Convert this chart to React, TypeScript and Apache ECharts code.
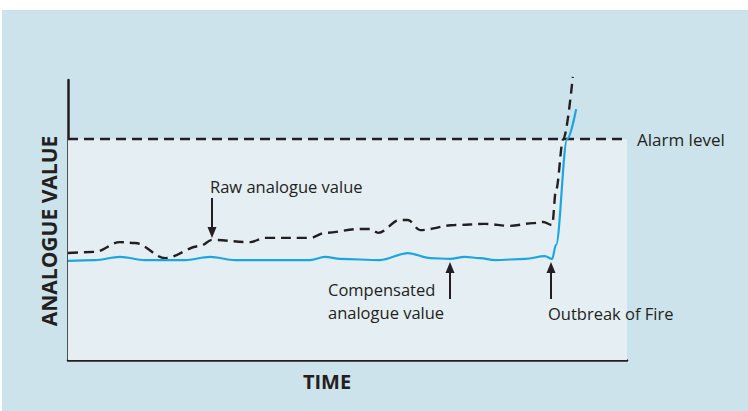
import React, { useEffect, useRef } from "react";
import * as echarts from "echarts";

// time (0–100 arbitrary units) and analogue value (0–100 arbitrary units)
const rawTime = [0, 4.8, 9.3, 12.0, 17.4, 23.6, 25.8, 32.6, 35.2, 43.3, 46.0, 52.2, 54.0, 55.5, 59.4, 60.8, 63.0, 69.2, 74.6, 79.1, 83.2, 85.0, 86.6, 87.3, 88.6, 90.3];
const rawValue = [38.2, 38.6, 42.1, 41.8, 36.4, 40.7, 42.9, 42.1, 43.6, 43.6, 45.4, 46.8, 46.8, 45.4, 50.0, 50.0, 46.4, 48.2, 48.6, 47.9, 48.9, 49.3, 48.2, 60.7, 78.9, 101.1];

const compTime = [0, 4.8, 9.3, 13.8, 20.9, 25.4, 29.9, 43.3, 46.0, 48.7, 55.8, 60.8, 64.8, 68.3, 71.0, 73.7, 76.4, 81.8, 85.3, 86.6, 87.3, 89.3, 90.9];
const compValue = [35.4, 35.7, 36.8, 35.7, 35.7, 36.8, 35.7, 35.7, 36.8, 36.1, 35.7, 38.2, 36.4, 36.1, 36.8, 36.4, 35.7, 36.1, 37.1, 36.1, 41.1, 78.9, 89.6];

const alarmLevel = 78.9;
const xTitle = "TIME";
const yTitle = "ANALOGUE VALUE";
const alarmLabel = "Alarm level";
const rawLabel = "Raw analogue value";
const compLabel = "Compensated\nanalogue value";
const fireLabel = "Outbreak of Fire";

const INK = "#231f20";
const FONT = "'Open Sans', 'Noto Sans', sans-serif";

function arrow(x: number, yTail: number, yTip: number) {
  const dir = yTip > yTail ? 1 : -1;
  return [
    { type: "line", shape: { x1: x, y1: yTail, x2: x, y2: yTip - dir * 8 }, style: { stroke: INK, lineWidth: 2 }, z: 10 },
    {
      type: "polygon",
      shape: { points: [[x - 4.5, yTip - dir * 11], [x + 4.5, yTip - dir * 11], [x, yTip]] },
      style: { fill: INK },
      z: 10,
    },
  ];
}

export default function App() {
  const ref = useRef<HTMLDivElement>(null);
  useEffect(() => {
    if (!ref.current) return;
    const chart = echarts.init(ref.current, null, { renderer: "svg" });
    const textStyle = { fill: INK, fontFamily: FONT, fontSize: 16.5 };
    chart.setOption({
      animation: false,
      backgroundColor: "#ffffff",
      grid: { left: 68, top: 80, width: 559, height: 280 },
      xAxis: {
        type: "value", min: 0, max: 100,
        axisLine: { show: true, lineStyle: { color: INK, width: 2.5 } },
        axisTick: { show: false }, axisLabel: { show: false }, splitLine: { show: false },
      },
      yAxis: {
        type: "value", min: 0, max: 100,
        axisLine: { show: true, lineStyle: { color: INK, width: 2.5 } },
        axisTick: { show: false }, axisLabel: { show: false }, splitLine: { show: false },
      },
      graphic: [
        { type: "rect", shape: { x: 2, y: 10, width: 746, height: 401 }, style: { fill: "#cce3ec" }, z: -10, silent: true },
        {
          type: "text", x: 49, y: 231, rotation: Math.PI / 2,
          style: { text: yTitle, fill: INK, fontFamily: FONT, fontSize: 21, fontWeight: "bold", align: "center", verticalAlign: "middle" },
          z: 10,
        },
        {
          type: "text", x: 327, y: 381,
          style: { text: xTitle, fill: INK, fontFamily: FONT, fontSize: 20, fontWeight: "bold", align: "center", verticalAlign: "middle" },
          z: 10,
        },
        { type: "text", x: 210, y: 186, style: { ...textStyle, text: rawLabel, align: "left", verticalAlign: "middle" }, z: 10 },
        { type: "text", x: 328, y: 301, style: { ...textStyle, text: compLabel, align: "left", verticalAlign: "middle", lineHeight: 23 }, z: 10 },
        { type: "text", x: 548, y: 313, style: { ...textStyle, text: fireLabel, align: "left", verticalAlign: "middle" }, z: 10 },
        ...arrow(212, 198, 238),
        ...arrow(450, 299, 262),
        ...arrow(551, 299, 262),
      ],
      series: [
        {
          type: "line",
          name: "Raw analogue value",
          data: rawTime.map((t, i) => [t, rawValue[i]]),
          showSymbol: false,
          smooth: 0.35,
          smoothMonotone: "x",
          clip: false,
          lineStyle: { color: INK, width: 2.4, type: [10, 6] },
          z: 4,
          markArea: {
            silent: true,
            itemStyle: { color: "#e4eef3" },
            data: [[{ xAxis: 0, yAxis: 0 }, { xAxis: 100, yAxis: alarmLevel }]],
          },
          markLine: {
            silent: true,
            symbol: ["none", "none"],
            lineStyle: { color: INK, width: 2.4, type: [10, 6] },
            label: { show: true, position: "end", distance: 10, formatter: alarmLabel, color: INK, fontFamily: FONT, fontSize: 17 },
            data: [{ yAxis: alarmLevel }],
          },
        },
        {
          type: "line",
          name: "Compensated analogue value",
          data: compTime.map((t, i) => [t, compValue[i]]),
          showSymbol: false,
          smooth: 0.35,
          smoothMonotone: "x",
          clip: false,
          lineStyle: { color: "#1ba6e0", width: 2.2 },
          z: 5,
        },
      ],
    });
    return () => chart.dispose();
  }, []);
  return <div ref={ref} style={{ position: "fixed", left: 0, top: 0, width: 748, height: 411 }} />;
}
